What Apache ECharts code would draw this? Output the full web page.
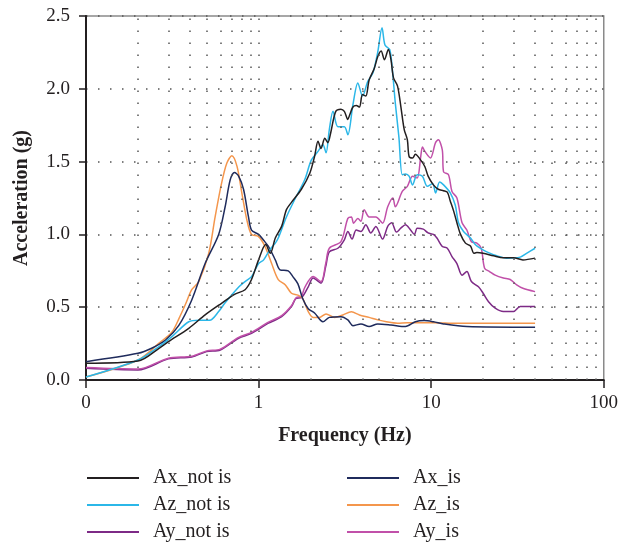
<!DOCTYPE html>
<html>
    <head>
        <meta charset="utf-8" />
        <script src="https://cdn.jsdelivr.net/npm/echarts@6/dist/echarts.min.js"></script>
    </head>
    <body style="margin: 0">
        <div id="main" style="width: 621px; height: 546px"></div>
        <script type="text/javascript">
            // frequency (Hz) / acceleration (g) pairs
            var axNotIs = [[0.1,0.115],[0.2,0.13],[0.265,0.218],[0.3,0.263],[0.394,0.355],[0.49,0.447],[0.61,0.527],[0.73,0.59],[0.835,0.62],[0.91,0.69],[1.0,0.825],[1.1,0.93],[1.17,0.87],[1.25,0.975],[1.36,1.055],[1.45,1.17],[1.55,1.22],[1.77,1.31],[1.98,1.42],[2.11,1.535],[2.21,1.64],[2.3,1.59],[2.42,1.66],[2.52,1.63],[2.62,1.7],[2.8,1.845],[3.0,1.86],[3.14,1.845],[3.29,1.79],[3.37,1.82],[3.52,1.875],[3.68,1.885],[3.84,1.875],[4.0,1.96],[4.18,1.95],[4.37,2.06],[4.68,2.14],[4.9,2.22],[5.13,2.26],[5.36,2.2],[5.65,2.27],[5.85,2.2],[6.05,2.075],[6.38,2.02],[6.67,1.88],[6.98,1.72],[7.28,1.65],[7.45,1.535],[7.8,1.525],[8.1,1.55],[8.7,1.51],[9.2,1.465],[9.6,1.4],[10.3,1.34],[11.0,1.31],[11.8,1.3],[12.4,1.29],[12.9,1.23],[13.5,1.16],[14.1,1.08],[14.8,1.0],[15.8,0.94],[16.9,0.92],[17.7,0.87],[18.4,0.875],[20,0.87],[23,0.853],[26.2,0.84],[30,0.84],[34,0.825],[40,0.837]];
            var azNotIs = [[0.1,0.02],[0.2,0.137],[0.265,0.23],[0.316,0.3],[0.394,0.4],[0.45,0.41],[0.52,0.41],[0.587,0.47],[0.64,0.53],[0.77,0.64],[0.835,0.676],[0.91,0.71],[1.0,0.8],[1.07,0.825],[1.17,0.9],[1.25,0.94],[1.3,0.975],[1.45,1.12],[1.62,1.24],[1.85,1.375],[2.02,1.51],[2.21,1.57],[2.36,1.615],[2.46,1.56],[2.57,1.72],[2.7,1.845],[2.88,1.74],[3.14,1.74],[3.29,1.685],[3.52,1.89],[3.76,2.04],[4.0,1.95],[4.29,2.05],[4.6,2.11],[4.9,2.25],[5.19,2.42],[5.4,2.3],[5.75,2.27],[5.96,2.13],[6.2,1.9],[6.5,1.67],[6.8,1.41],[7.1,1.415],[7.45,1.4],[7.8,1.34],[8.3,1.41],[8.9,1.4],[9.5,1.33],[10.2,1.35],[10.6,1.285],[11.2,1.36],[11.8,1.34],[12.9,1.285],[13.8,1.2],[14.4,1.08],[15.4,1.02],[16.9,0.975],[18,0.93],[19.2,0.905],[21,0.88],[24,0.853],[27.4,0.837],[32.8,0.844],[35.7,0.87],[40,0.905]];
            var ayNotIs = [[0.1,0.08],[0.2,0.069],[0.3,0.145],[0.41,0.158],[0.5,0.195],[0.6,0.206],[0.766,0.287],[0.91,0.32],[1.14,0.39],[1.36,0.435],[1.55,0.504],[1.65,0.56],[1.77,0.565],[1.94,0.64],[2.07,0.7],[2.3,0.665],[2.45,0.78],[2.57,0.88],[2.88,0.905],[3.14,0.963],[3.29,1.02],[3.48,0.968],[3.68,1.03],[3.92,1.02],[4.18,1.066],[4.47,1.01],[4.78,1.055],[5.23,0.968],[5.6,1.055],[5.9,1.08],[6.3,1.016],[6.67,1.043],[7.1,1.066],[7.6,1.03],[8.0,1.0],[8.3,1.043],[9.0,1.036],[9.6,1.01],[10.3,1.0],[10.8,0.975],[11.6,0.917],[12.4,0.905],[13.2,0.848],[14.1,0.8],[15.1,0.72],[16.1,0.745],[17.1,0.676],[18.8,0.64],[20,0.596],[21.5,0.538],[23.5,0.493],[26.2,0.47],[30,0.47],[32.8,0.504],[40,0.504]];
            var axIs = [[0.1,0.126],[0.2,0.183],[0.24,0.218],[0.289,0.275],[0.345,0.375],[0.41,0.55],[0.49,0.8],[0.587,1.0],[0.64,1.19],[0.685,1.375],[0.725,1.425],[0.766,1.4],[0.818,1.31],[0.874,1.12],[0.91,1.03],[1.0,1.0],[1.07,0.96],[1.14,0.917],[1.25,0.825],[1.33,0.757],[1.485,0.75],[1.58,0.71],[1.69,0.66],[1.8,0.56],[1.94,0.49],[2.11,0.46],[2.36,0.4],[2.57,0.43],[3.0,0.435],[3.29,0.413],[3.52,0.373],[3.92,0.385],[4.37,0.367],[4.9,0.385],[5.85,0.378],[7.1,0.367],[8.1,0.4],[9.1,0.408],[10.3,0.4],[11.8,0.385],[16.1,0.367],[40,0.362]];
            var azIs = [[0.1,0.02],[0.2,0.137],[0.265,0.253],[0.316,0.332],[0.345,0.42],[0.377,0.52],[0.41,0.62],[0.45,0.676],[0.514,0.87],[0.56,1.12],[0.61,1.35],[0.655,1.49],[0.7,1.54],[0.75,1.467],[0.8,1.284],[0.855,1.1],[0.91,1.0],[1.0,0.985],[1.09,0.917],[1.19,0.8],[1.3,0.69],[1.43,0.653],[1.55,0.596],[1.69,0.583],[1.8,0.56],[1.94,0.47],[2.07,0.43],[2.25,0.43],[2.46,0.454],[2.76,0.43],[3.08,0.447],[3.45,0.468],[3.84,0.447],[4.37,0.43],[4.9,0.413],[5.5,0.4],[6.38,0.39],[7.28,0.394],[10.3,0.394],[14,0.39],[40,0.39]];
            var ayIs = [[0.1,0.085],[0.2,0.075],[0.3,0.15],[0.41,0.163],[0.5,0.2],[0.6,0.212],[0.766,0.293],[0.91,0.327],[1.14,0.397],[1.36,0.442],[1.55,0.51],[1.65,0.565],[1.77,0.575],[1.85,0.635],[2.07,0.71],[2.3,0.676],[2.45,0.8],[2.57,0.905],[3.0,0.95],[3.29,1.11],[3.45,1.12],[3.55,1.077],[3.76,1.11],[3.92,1.09],[4.09,1.17],[4.37,1.12],[4.78,1.12],[5.23,1.077],[5.6,1.19],[6.0,1.25],[6.2,1.19],[6.8,1.295],[7.28,1.33],[7.8,1.4],[8.3,1.387],[8.7,1.535],[8.9,1.6],[9.2,1.57],[9.9,1.525],[10.6,1.63],[11.0,1.65],[11.6,1.58],[11.8,1.43],[12.6,1.41],[13.2,1.295],[14.1,1.25],[15.1,1.08],[16.1,1.03],[17.1,0.95],[18.4,0.94],[19.5,0.905],[20.4,0.768],[21.8,0.745],[23.5,0.72],[26.2,0.7],[28.7,0.69],[31.3,0.653],[34,0.63],[40,0.607]];

            var leftNames = ["Ax_not is", "Az_not is", "Ay_not is"];
            var rightNames = ["Ax_is", "Az_is", "Ay_is"];
            // dotted vertical grid at 2..9 of each decade
            var gridFreqs = [0.2,0.3,0.4,0.5,0.6,0.7,0.8,0.9,1,2,3,4,5,6,7,8,9,10,20,30,40,50,60,70,80,90];

            var serif = "Liberation Serif";
            var ink = "#231f20";
            var dots = { type: [1.5, 10.5], color: "#555", width: 1.5 };

            function line(name, data, color) {
                return {
                    name: name,
                    type: "line",
                    data: data,
                    color: color,
                    showSymbol: false,
                    symbol: "none",
                    smooth: 0.3,
                    lineStyle: { width: 1.5, color: color },
                };
            }

            var legendBase = {
                orient: "vertical",
                top: 468,
                height: 78,
                padding: 0,
                icon: "rect",
                itemWidth: 52,
                itemHeight: 2,
                itemGap: 7,
                selectedMode: false,
                textStyle: { fontFamily: serif, fontSize: 20, color: ink, padding: [0, 0, 0, 9] },
            };

            var myChart = echarts.init(document.getElementById("main"));
            myChart.setOption({
                animation: false,
                grid: { left: 86, right: 14, top: 16, bottom: 166, show: true, borderColor: "#8a8a8a", borderWidth: 1.5 },
                legend: [
                    Object.assign({}, legendBase, { left: 87, data: leftNames }),
                    Object.assign({}, legendBase, { left: 347, data: rightNames }),
                ],
                xAxis: {
                    type: "log",
                    logBase: 10,
                    min: 0.1,
                    max: 100,
                    name: "Frequency (Hz)",
                    nameLocation: "middle",
                    nameGap: 46,
                    nameTextStyle: { fontFamily: serif, fontSize: 20, fontWeight: "bold", color: ink },
                    axisLine: { lineStyle: { color: ink, width: 2 } },
                    axisTick: { length: 8, lineStyle: { color: ink, width: 1.5 } },
                    axisLabel: {
                        fontFamily: serif,
                        fontSize: 19,
                        color: ink,
                        margin: 14,
                        formatter: function (v) {
                            return v < 1 ? "0" : String(Math.round(v));
                        },
                    },
                    splitLine: { show: false },
                },
                yAxis: {
                    type: "value",
                    min: 0,
                    max: 2.5,
                    interval: 0.5,
                    name: "Acceleration (g)",
                    nameLocation: "middle",
                    nameGap: 54,
                    nameTextStyle: { fontFamily: serif, fontSize: 20, fontWeight: "bold", color: ink },
                    axisLine: { show: true, lineStyle: { color: ink, width: 2 } },
                    axisTick: { show: true, length: 7, lineStyle: { color: ink, width: 1.5 } },
                    axisLabel: {
                        fontFamily: serif,
                        fontSize: 19,
                        color: ink,
                        margin: 16,
                        formatter: function (v) {
                            return v.toFixed(1);
                        },
                    },
                    splitLine: { show: true, lineStyle: dots },
                },
                series: [
                    {
                        type: "line",
                        data: [],
                        silent: true,
                        markLine: {
                            silent: true,
                            symbol: "none",
                            label: { show: false },
                            lineStyle: dots,
                            data: gridFreqs.map(function (f) {
                                return { xAxis: f };
                            }),
                        },
                    },
                    line("Ay_not is", ayNotIs, "#7d2a86"),
                    line("Ay_is", ayIs, "#c150a9"),
                    line("Az_is", azIs, "#f4964c"),
                    line("Ax_is", axIs, "#1f2b5c"),
                    line("Az_not is", azNotIs, "#2bb7e8"),
                    line("Ax_not is", axNotIs, ink),
                ],
            });
        </script>
    </body>
</html>
